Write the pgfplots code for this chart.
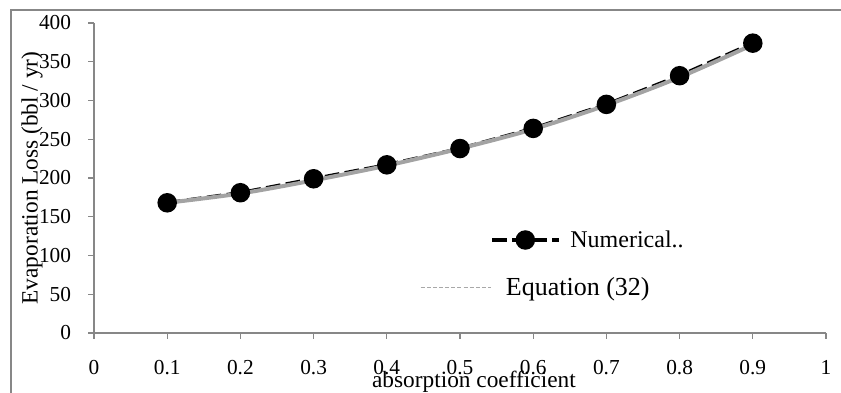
\documentclass[border=0pt]{standalone}
\usepackage{pgfplots}
\pgfplotsset{compat=1.18}
\usepackage{fontspec}
\setmainfont{Liberation Serif}
\definecolor{axgray}{HTML}{878787}
\definecolor{eqgray}{HTML}{A3A3A3}
\definecolor{leggray}{HTML}{A8A8A8}
\pgfplotsset{
  numleg/.style={legend image code/.code={\draw[mark repeat=2,mark phase=2,##1] plot coordinates {(0pt,0pt) (25pt,0pt) (50pt,0pt)};}},
  eqleg/.style={legend image code/.code={\draw[##1] (0pt,0pt) -- (52.5pt,0pt);}},
}
\begin{document}
\begin{tikzpicture}
\useasboundingbox (0,0) rectangle (630.75pt,294pt);
\draw[axgray, line width=1.5pt] (8.25pt,-20pt) rectangle (680pt,286.5pt);
\begin{axis}[
  at={(70.5pt,44.25pt)}, anchor=south west,
  scale only axis, width=549pt, height=232.5pt,
  xmin=0, xmax=1, ymin=0, ymax=400,
  xtick={0,0.1,...,1}, ytick={0,50,...,400},
  axis lines=left,
  axis line style={axgray, line width=1pt, -},
  tick style={axgray, line width=1pt},
  tick align=outside, major tick length=4.5pt,
  /pgf/number format/assume math mode=true,
  xticklabel style={font=\fontsize{16}{18}\selectfont, anchor=north, inner sep=0pt, yshift=-16pt},
  yticklabel style={font=\fontsize{16}{18}\selectfont, anchor=east, inner sep=0pt, xshift=-12.5pt},
  xticklabel={\pgfmathprintnumber[fixed, precision=1]{\tick}},
  every axis x label/.style={at={(axis description cs:0.519,-0.158)}, anchor=center},
  every axis y label/.style={at={(axis description cs:-0.0847,0.5)}, rotate=90, anchor=center},
  label style={font=\fontsize{17.5}{19}\selectfont, inner sep=0pt},
  xlabel={absorption coefficient},
  ylabel={Evaporation Loss (bbl / yr)},
  clip=false,
  legend style={draw=none, fill=none, inner sep=0pt, at={(axis description cs:0.541,0.30)}, anchor=west,
    nodes={inner sep=0pt}, column sep=7.5pt, font=\fontsize{18}{20}\selectfont},
  legend cell align=left,
]
\addplot[black, line width=2.6pt, dash pattern=on 11pt off 4pt, mark=*, mark size=6pt,
  mark options={solid, fill=black}, numleg]
coordinates {(0.1,168) (0.2,181) (0.3,199) (0.4,217) (0.5,238) (0.6,264) (0.7,295) (0.8,332) (0.9,374)};
\addlegendentry{Numerical..}
\addplot[eqgray, line width=3pt, smooth, forget plot]
coordinates {(0.1,168) (0.2,180) (0.3,197) (0.4,216) (0.5,238) (0.6,263) (0.7,294) (0.8,330) (0.9,372)};
\end{axis}
\begin{axis}[
  at={(70.5pt,44.25pt)}, anchor=south west,
  scale only axis, width=549pt, height=232.5pt,
  xmin=0, xmax=1, ymin=0, ymax=400, hide axis,
  legend style={draw=none, fill=none, inner sep=0pt, at={(axis description cs:0.445,0.148)}, anchor=west,
    nodes={inner sep=0pt}, column sep=11pt, font=\fontsize{19.5}{22}\selectfont},
  legend cell align=left,
]
\addlegendimage{leggray, line width=0.9pt, dash pattern=on 3pt off 1.6pt, eqleg}
\addlegendentry{Equation (32)}
\end{axis}
\end{tikzpicture}
\end{document}
